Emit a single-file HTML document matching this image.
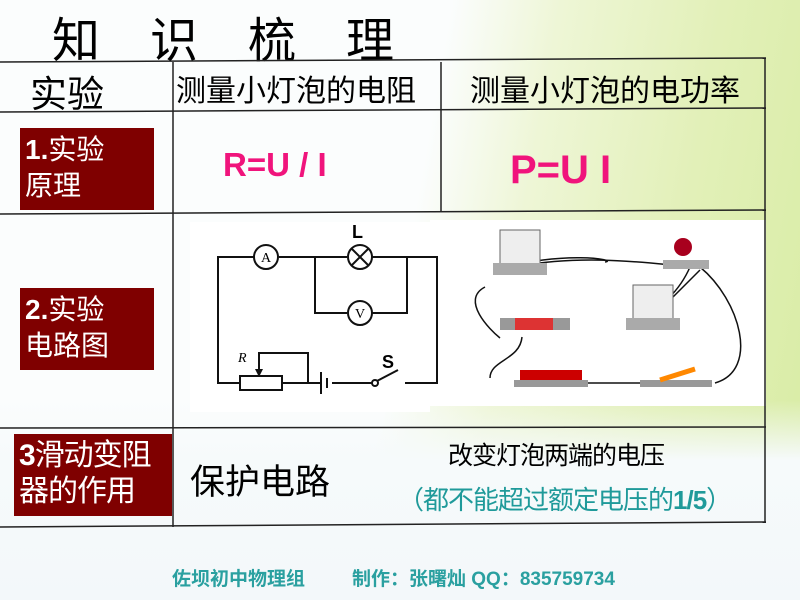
<!DOCTYPE html>
<html><head><meta charset="utf-8"><style>
body{margin:0;width:800px;height:600px;overflow:hidden;font-family:"Liberation Sans","Noto Sans CJK SC",sans-serif;
background:linear-gradient(100deg,#fbfdfd 0%,#fbfdfd 50%,#eef6d6 62%,#e2f0b8 80%,#d8eca4 100%);position:relative}
.bot{position:absolute;left:0;top:400px;width:800px;height:200px;background:linear-gradient(180deg,rgba(246,250,251,0) 0%,#f6fafb 30%,#f3f8fa)}
.t{position:absolute;white-space:nowrap}
.red{position:absolute;background:#7f0000;color:#fff;font-size:28px;line-height:36px;padding-left:5px;box-sizing:border-box}
</style></head><body>
<div class="bot"></div>
<div class="t" style="left:52px;top:6px;font-size:48px;font-family:'Noto Sans CJK SC',sans-serif;letter-spacing:50px;line-height:60px">知识梳理</div>
<svg style="position:absolute;left:0;top:0" width="800" height="600">
<rect x="190" y="222" width="240" height="190" fill="#fff"/>
<rect x="430" y="220" width="336" height="186" fill="#fff"/>
<g stroke="#222" stroke-width="1.5" fill="none">
<line x1="0" y1="62" x2="766" y2="58"/>
<line x1="0" y1="112" x2="766" y2="108"/>
<line x1="0" y1="214" x2="766" y2="210"/>
<line x1="0" y1="428" x2="766" y2="427"/>
<line x1="0" y1="527" x2="766" y2="522"/>
<line x1="173" y1="62" x2="173" y2="527"/>
<line x1="441" y1="62" x2="441" y2="212"/>
<line x1="765" y1="58" x2="765" y2="522"/>
</g>
<g stroke="#111" stroke-width="2" fill="none">
<path d="M254 257 H218 V383 H232"/><path d="M279 257 H325"/>
<path d="M315 257 V313 H347"/><path d="M372 313 H407 V257 H372"/>
<path d="M347 257 H315"/>
<path d="M407 257 H437 V383 H405"/>
<circle cx="266" cy="257" r="12"/><circle cx="360" cy="257" r="12"/><circle cx="360" cy="313" r="12"/>
<path d="M352 249 L368 265 M368 249 L352 265"/>
<rect x="240" y="376" width="42" height="14"/>
<path d="M232 383 H240 M282 383 H308 V353 H259 V376"/>
<path d="M308 383 H321 M332 383 H348"/>
<line x1="321" y1="372" x2="321" y2="394"/><line x1="327" y1="378" x2="327" y2="388"/>
<path d="M348 383 H372"/><circle cx="375" cy="383" r="3"/><path d="M377 381 L398 370"/>
</g>
<polygon points="255,369 263,369 259,377" fill="#111"/>
<text x="266" y="262" font-size="14" text-anchor="middle" font-family="Liberation Serif">A</text>
<text x="360" y="318" font-size="14" text-anchor="middle" font-family="Liberation Serif">V</text>
<text x="238" y="362" font-size="14" font-style="italic" font-family="Liberation Serif">R</text>
<text x="352" y="238" font-size="18" font-weight="bold">L</text>
<text x="382" y="368" font-size="18" font-weight="bold">S</text>
<g stroke="#111" stroke-width="1.5" fill="none">
<path d="M485 287 C460 300,490 330,500 338"/><path d="M498 270 C560 250,620 260,605 262"/>
<path d="M520 266 C580 255,640 262,672 265"/><path d="M690 267 C680 290,660 310,640 317"/>
<path d="M700 267 C740 300,760 370,715 383"/><path d="M522 337 C520 360,490 360,490 378"/>
<path d="M560 383 H655"/><path d="M700 270 C680 290,670 300,660 310"/>
</g>
<g>
<rect x="500" y="230" width="40" height="35" fill="#eee" stroke="#666"/><rect x="493" y="263" width="54" height="12" fill="#aaa"/>
<rect x="633" y="285" width="40" height="35" fill="#eee" stroke="#666"/><rect x="626" y="318" width="54" height="12" fill="#aaa"/>
<circle cx="683" cy="247" r="9" fill="#a8001e"/><rect x="663" y="260" width="46" height="9" fill="#aaa"/>
<rect x="500" y="318" width="70" height="12" fill="#999"/><rect x="515" y="318" width="38" height="12" fill="#d33"/>
<rect x="520" y="370" width="62" height="12" fill="#c00"/><rect x="514" y="380" width="74" height="7" fill="#999"/>
<rect x="640" y="380" width="72" height="7" fill="#999"/><line x1="660" y1="380" x2="695" y2="369" stroke="#f80" stroke-width="5"/>
</g>
</svg>
<div class="t" style="left:30px;top:64px;font-size:37px">实验</div>
<div class="t" style="left:176px;top:66px;font-size:30px">测量小灯泡的电阻</div>
<div class="t" style="left:470px;top:66px;font-size:30px">测量小灯泡的电功率</div>
<div class="red" style="left:20px;top:128px;width:134px;height:82px;padding-top:4px"><b>1.</b>实验<br>原理</div>
<div class="t" style="left:223px;top:146px;font-size:33px;font-weight:bold;color:#f0147c">R=U / I</div>
<div class="t" style="left:510px;top:148px;font-size:40px;font-weight:bold;color:#f0147c">P=U I</div>
<div class="red" style="left:20px;top:288px;width:134px;height:82px;padding-top:4px"><b>2.</b>实验<br>电路图</div>
<div class="red" style="left:14px;top:434px;width:158px;height:82px;padding-top:4px;font-size:30px;letter-spacing:-1px"><b>3</b>滑动变阻<br>器的作用</div>
<div class="t" style="left:190px;top:454px;font-size:35px">保护电路</div>
<div class="t" style="left:448px;top:436px;font-size:25px;letter-spacing:-1px">改变灯泡两端的电压</div>
<div class="t" style="left:398px;top:480px;font-size:26px;color:#1f9a9a;letter-spacing:-1px">（都不能超过额定电压的<b>1/5</b>）</div>
<div class="t" style="left:172px;top:564px;font-size:19px;font-weight:bold;color:#2aa0a0">佐坝初中物理组</div>
<div class="t" style="left:352px;top:564px;font-size:19px;font-weight:bold;color:#2aa0a0">制作：张曙灿 QQ：835759734</div>
</body></html>
